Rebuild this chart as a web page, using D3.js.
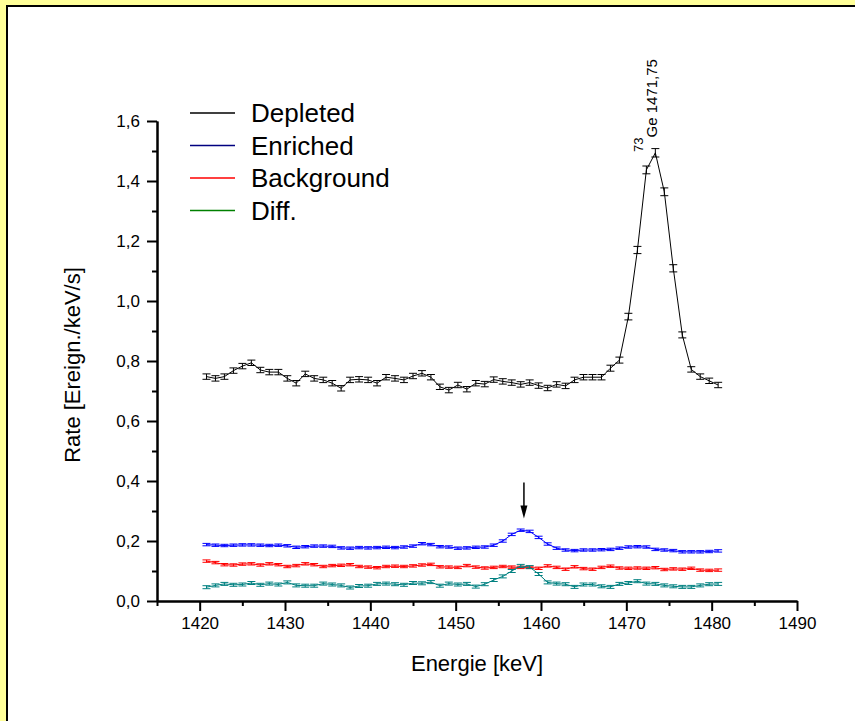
<!DOCTYPE html>
<html>
<head>
<meta charset="utf-8">
<script src="https://cdn.jsdelivr.net/npm/d3@7"></script>
<style>
  body { margin: 0; background: #fff; }
  svg text { font-family: "Liberation Sans", Arial, sans-serif; fill: #000; }
</style>
</head>
<body>
<svg id="chart" width="859" height="721"></svg>
<script>
// bin centres in keV
const energies = [1420.80, 1421.85, 1422.90, 1423.96, 1425.01, 1426.06, 1427.11, 1428.16, 1429.22, 1430.27,
  1431.32, 1432.37, 1433.42, 1434.48, 1435.53, 1436.58, 1437.63, 1438.68, 1439.74, 1440.79,
  1441.84, 1442.89, 1443.94, 1445.00, 1446.05, 1447.10, 1448.15, 1449.20, 1450.26, 1451.31,
  1452.36, 1453.41, 1454.46, 1455.52, 1456.57, 1457.62, 1458.67, 1459.72, 1460.78, 1461.83,
  1462.88, 1463.93, 1464.98, 1466.04, 1467.09, 1468.14, 1469.19, 1470.24, 1471.30, 1472.35,
  1473.40, 1474.45, 1475.50, 1476.56, 1477.61, 1478.66, 1479.71, 1480.76];

const depleted = [0.748, 0.742, 0.748, 0.768, 0.783, 0.794, 0.770, 0.763, 0.763, 0.742,
  0.726, 0.757, 0.742, 0.737, 0.726, 0.709, 0.737, 0.739, 0.737, 0.726,
  0.746, 0.742, 0.737, 0.750, 0.759, 0.746, 0.714, 0.703, 0.720, 0.706,
  0.726, 0.723, 0.738, 0.732, 0.728, 0.722, 0.728, 0.718, 0.710, 0.722,
  0.717, 0.737, 0.746, 0.746, 0.746, 0.776, 0.803, 0.948, 1.170, 1.437,
  1.494, 1.364, 1.109, 0.887, 0.772, 0.748, 0.734, 0.720];
const depletedErr = [0.009, 0.009, 0.009, 0.009, 0.009, 0.009, 0.009, 0.009, 0.009, 0.009,
  0.009, 0.009, 0.009, 0.009, 0.009, 0.009, 0.009, 0.009, 0.009, 0.009,
  0.009, 0.009, 0.009, 0.009, 0.009, 0.009, 0.009, 0.009, 0.009, 0.009,
  0.009, 0.009, 0.009, 0.009, 0.009, 0.009, 0.009, 0.009, 0.009, 0.009,
  0.009, 0.009, 0.009, 0.009, 0.009, 0.010, 0.010, 0.011, 0.012, 0.013,
  0.014, 0.013, 0.012, 0.010, 0.009, 0.009, 0.009, 0.009];

const enriched = [0.188, 0.186, 0.185, 0.186, 0.187, 0.187, 0.186, 0.185, 0.186, 0.184,
  0.179, 0.181, 0.183, 0.183, 0.182, 0.177, 0.176, 0.178, 0.177, 0.178,
  0.179, 0.178, 0.180, 0.183, 0.191, 0.188, 0.181, 0.180, 0.176, 0.177,
  0.179, 0.180, 0.186, 0.200, 0.222, 0.236, 0.232, 0.212, 0.190, 0.176,
  0.170, 0.168, 0.170, 0.170, 0.171, 0.172, 0.176, 0.180, 0.181, 0.180,
  0.172, 0.170, 0.168, 0.164, 0.164, 0.164, 0.165, 0.167];

const background = [0.133, 0.128, 0.121, 0.120, 0.123, 0.124, 0.120, 0.124, 0.121, 0.115,
  0.118, 0.124, 0.121, 0.115, 0.118, 0.119, 0.121, 0.115, 0.113, 0.111,
  0.115, 0.116, 0.115, 0.117, 0.120, 0.122, 0.114, 0.113, 0.112, 0.118,
  0.113, 0.110, 0.112, 0.115, 0.113, 0.112, 0.112, 0.109, 0.117, 0.112,
  0.106, 0.114, 0.108, 0.106, 0.112, 0.116, 0.110, 0.109, 0.110, 0.109,
  0.111, 0.105, 0.107, 0.106, 0.109, 0.103, 0.102, 0.103];

const diff = [0.046, 0.052, 0.057, 0.054, 0.055, 0.060, 0.054, 0.058, 0.055, 0.062,
  0.052, 0.051, 0.051, 0.058, 0.055, 0.052, 0.045, 0.050, 0.051, 0.057,
  0.058, 0.056, 0.054, 0.060, 0.059, 0.063, 0.051, 0.058, 0.055, 0.057,
  0.048, 0.056, 0.070, 0.082, 0.100, 0.117, 0.113, 0.090, 0.062, 0.058,
  0.056, 0.047, 0.055, 0.055, 0.049, 0.047, 0.057, 0.060, 0.066, 0.058,
  0.057, 0.052, 0.049, 0.047, 0.047, 0.052, 0.056, 0.057];

const errEnriched = 0.004;
const errBackground = 0.004;
const errDiff = 0.005;

const xMajorTicks = [1420, 1430, 1440, 1450, 1460, 1470, 1480, 1490];
const xMinorTicks = [1415, 1425, 1435, 1445, 1455, 1465, 1475, 1485];
const yMajorTicks = [0, 0.2, 0.4, 0.6, 0.8, 1.0, 1.2, 1.4, 1.6];
const yMinorTicks = [0.1, 0.3, 0.5, 0.7, 0.9, 1.1, 1.3, 1.5];

const legendLabels = ["Depleted", "Enriched", "Background", "Diff."];
const legendColors = ["#000000", "#000080", "#ff0000", "#008000"];

const peakName = "Ge 1471,75";
const peakIsotope = "73";
const peakLabelAt = [1473.6, 1.497];   // keV, rate
const arrowAt = [1458.0, 0.395, 0.275]; // keV, top, tip

const svg = d3.select("#chart");
const W = 859, H = 721;

// frame: yellow surround, white panel with black top/left edge
svg.append("rect").attr("width", 855).attr("height", H).attr("fill", "#ffff99");
svg.append("rect").attr("x", 7).attr("y", 6).attr("width", W - 7).attr("height", H - 6).attr("fill", "#fff");
svg.append("rect").attr("x", 855).attr("y", 0).attr("width", 4).attr("height", 7).attr("fill", "#fff");
svg.append("path").attr("d", `M7,${H} V6 H855`).attr("fill", "none").attr("stroke", "#000").attr("stroke-width", 2);

const x = d3.scaleLinear().domain([1415, 1490]).range([157, 797]);
const y = d3.scaleLinear().domain([0, 1.6]).range([601, 121]);

const de = d3.formatLocale({ decimal: ",", thousands: ".", grouping: [3], currency: ["", ""] });
const fmtY = de.format(".1f");

// axes
const gx = svg.append("g").attr("transform", `translate(0,${y(0)})`);
gx.call(d3.axisBottom(x).tickValues(xMajorTicks).tickSize(10).tickSizeOuter(0).tickPadding(6).tickFormat(d3.format("d")));
gx.append("g").call(d3.axisBottom(x).tickValues(xMinorTicks).tickSize(5).tickSizeOuter(0).tickFormat(""));

const gy = svg.append("g").attr("transform", `translate(${x(1415)},0)`);
gy.call(d3.axisLeft(y).tickValues(yMajorTicks).tickSize(10).tickSizeOuter(0).tickPadding(7).tickFormat(fmtY));
gy.append("g").call(d3.axisLeft(y).tickValues(yMinorTicks).tickSize(5).tickSizeOuter(0).tickFormat(""));

svg.selectAll(".domain").attr("stroke", "#000").attr("stroke-width", 2);
svg.selectAll(".tick line").attr("stroke", "#000").attr("stroke-width", 2);
svg.selectAll(".tick text").attr("font-size", 17).attr("font-family", "Liberation Sans, Arial, sans-serif").attr("fill", "#000");

// axis titles
svg.append("text")
  .attr("x", x(1452.5)).attr("y", 671)
  .attr("text-anchor", "middle").attr("font-size", 22)
  .text("Energie [keV]");
svg.append("text")
  .attr("transform", `translate(80,${(y(0) + y(1.6)) / 2 + 4}) rotate(-90)`)
  .attr("text-anchor", "middle").attr("font-size", 22)
  .text("Rate [Ereign./keV/s]");

// series with error bars
const series = [
  { values: background, err: background.map(() => errBackground), color: "#ff0000" },
  { values: diff, err: diff.map(() => errDiff), color: "#008080" },
  { values: enriched, err: enriched.map(() => errEnriched), color: "#0000ff" },
  { values: depleted, err: depletedErr, color: "#000000" }
];

const line = d3.line().x(d => x(d.e)).y(d => y(d.v));
const cap = 4;

series.forEach(s => {
  const pts = energies.map((e, i) => ({ e: e, v: s.values[i], er: s.err[i] }));
  const g = svg.append("g").attr("stroke", s.color).attr("fill", "none").attr("stroke-width", 1);
  g.append("path").attr("d", line(pts));
  const bars = g.selectAll("g.eb").data(pts).join("g").attr("class", "eb");
  bars.append("line")
    .attr("x1", d => x(d.e)).attr("x2", d => x(d.e))
    .attr("y1", d => y(d.v - d.er)).attr("y2", d => y(d.v + d.er));
  bars.append("line")
    .attr("x1", d => x(d.e) - cap).attr("x2", d => x(d.e) + cap)
    .attr("y1", d => y(d.v + d.er)).attr("y2", d => y(d.v + d.er));
  bars.append("line")
    .attr("x1", d => x(d.e) - cap).attr("x2", d => x(d.e) + cap)
    .attr("y1", d => y(d.v - d.er)).attr("y2", d => y(d.v - d.er));
});

// legend
const leg = svg.append("g");
legendLabels.forEach((name, i) => {
  const ly = 113 + i * 32.5;
  leg.append("line").attr("x1", 190).attr("x2", 235).attr("y1", ly).attr("y2", ly)
    .attr("stroke", legendColors[i]).attr("stroke-width", 1.5);
  leg.append("text").attr("x", 251).attr("y", ly + 9).attr("font-size", 26).text(name);
});

// peak annotation
const pl = svg.append("text")
  .attr("transform", `translate(${x(peakLabelAt[0])},${y(peakLabelAt[1])}) rotate(-90)`)
  .attr("font-size", 15);
pl.append("tspan").attr("font-size", 13).attr("dy", -14).text(peakIsotope);
pl.append("tspan").attr("dy", 14).text(peakName);

// arrow marking the 1458 keV bump
const ax = x(arrowAt[0]), aTop = y(arrowAt[1]), aTip = y(arrowAt[2]);
svg.append("line").attr("x1", ax).attr("x2", ax).attr("y1", aTop).attr("y2", aTip - 8)
  .attr("stroke", "#000").attr("stroke-width", 1.5);
svg.append("path")
  .attr("d", `M${ax - 3.5},${aTip - 13} L${ax + 3.5},${aTip - 13} L${ax},${aTip} Z`)
  .attr("fill", "#000");
</script>
</body>
</html>
